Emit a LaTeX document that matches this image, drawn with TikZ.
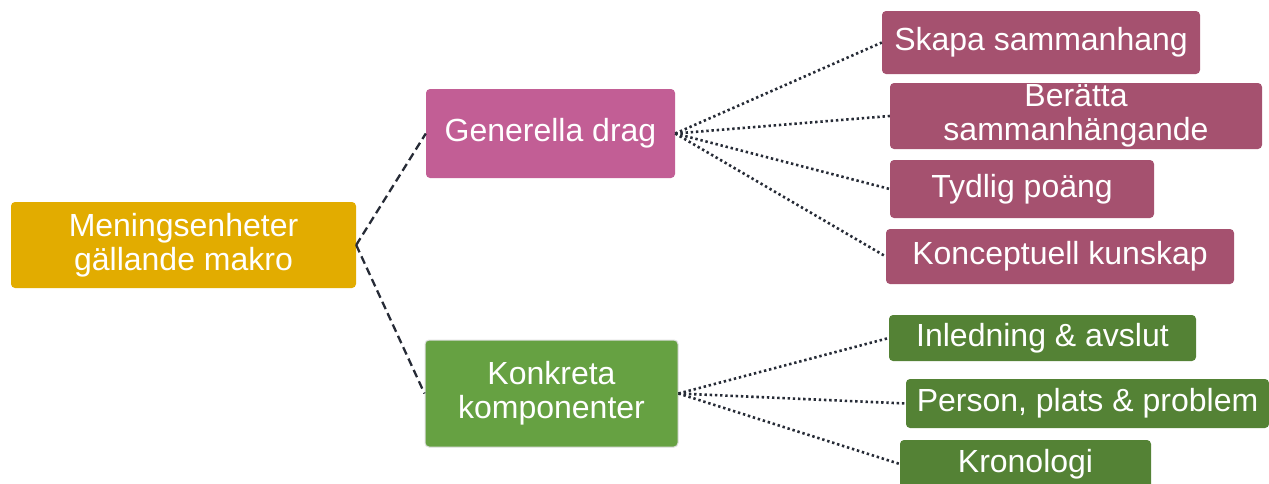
\documentclass[tikz,border=0pt]{standalone}
\usepackage{fontspec}
\setmainfont{Liberation Sans}
\usepackage{tikz}
\definecolor{gold}{HTML}{E2AC00}
\definecolor{rosa}{HTML}{C25E95}
\definecolor{gron}{HTML}{66A142}
\definecolor{mrosa}{HTML}{A5516F}
\definecolor{mgron}{HTML}{548235}
\definecolor{streck}{HTML}{262B36}
\newcommand{\PR}[0]{gold}
\newcommand{\PG}[0]{rosa}
\newcommand{\PK}[0]{gron}
\newcommand{\PGs}[0]{mrosa}
\newcommand{\PKs}[0]{mgron}
\tikzset{
  lbox/.style={rounded corners=4pt, text=white, align=center, inner sep=0pt,
    font=\fontsize{32}{34}\selectfont},
  dashlink/.style={draw=streck, line width=2.3pt, dash pattern=on 8pt off 4.5pt},
  dotlink/.style={draw=streck, line width=2.6pt, dash pattern=on 2.4pt off 2.8pt}
}

\begin{document}
\begin{tikzpicture}[x=1pt, y=-1pt]

  \useasboundingbox (0,0) rectangle (1269,483);
  \clip (0,0) rectangle (1269,483);

  %% left and middle
  \node[lbox, fill=\PR, minimum width=345pt, minimum height=86pt]
    (root) at (183.5,245) {Meningsenheter\\gällande makro};
  \node[lbox, fill=\PG, minimum width=249pt, minimum height=89pt]
    (gen) at (550.5,133.5) {Generella drag};
  \node[lbox, fill=\PK, draw=gray!25, line width=1pt,
    minimum width=253pt, minimum height=107pt]
    (kon) at (551.5,393.5) {Konkreta\\komponenter};

  %% right, upper
  \node[lbox, fill=\PGs, minimum width=318pt, minimum height=63pt]
    (skapa) at (1041,42.5) {Skapa sammanhang};
  \node[lbox, fill=\PGs, minimum width=372pt, minimum height=66pt]
    (beratta) at (1076,116) {Berätta\\sammanhängande};
  \node[lbox, fill=\PGs, minimum width=264pt, minimum height=58pt]
    (tydlig) at (1022,189) {Tydlig poäng};
  \node[lbox, fill=\PGs, minimum width=348pt, minimum height=55pt]
    (koncept) at (1060,256.5) {Konceptuell kunskap};

  %% right, lower
  \node[lbox, fill=\PKs, minimum width=307pt, minimum height=46pt]
    (inledning) at (1042.5,338) {Inledning \& avslut};
  \node[lbox, fill=\PKs, minimum width=363pt, minimum height=49pt]
    (person) at (1087.5,403.5) {Person, plats \& problem};
  \node[lbox, fill=\PKs, minimum width=251pt, minimum height=48pt]
    (krono) at (1025.5,464) {Kronologi};

  \draw[dashlink] (root.east) -- (gen.west); %% root - gen
  \draw[dashlink] (root.east) -- (kon.west); %% root - kon

  \foreach \n in {skapa,beratta,tydlig,koncept}
    \draw[dotlink] (gen.east) -- (\n.west);
  \foreach \n in {inledning,person,krono}
    \draw[dotlink] (kon.east) -- (\n.west);

\end{tikzpicture}
\end{document}
